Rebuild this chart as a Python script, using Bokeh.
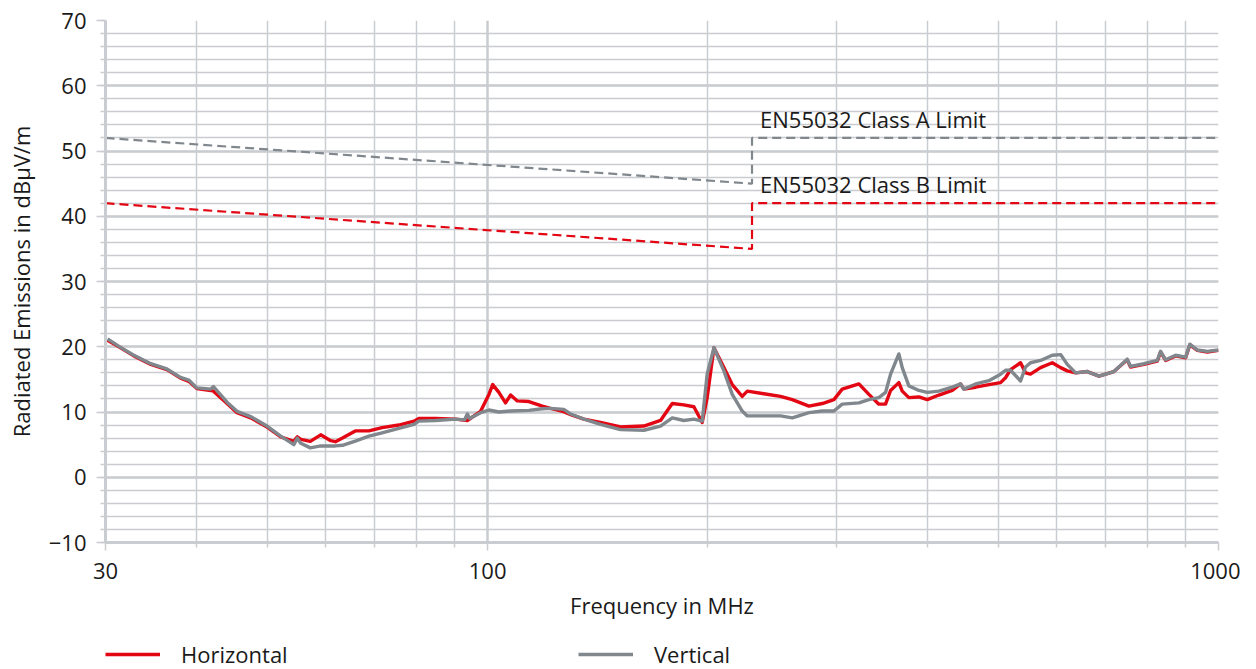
from bokeh.plotting import figure
from bokeh.models import FixedTicker, Legend, LegendItem
from bokeh.layouts import column
from bokeh.core.properties import value
from bokeh.embed import file_html
from bokeh.resources import INLINE

# ---------------- data ----------------
freq_h = [30.2, 31.45, 32.8, 34.6, 36.4, 38.0, 39.0, 40.0, 41.8, 42.15, 44.0, 45.4, 47.4, 49.9,
          52.1, 54.3, 54.9, 55.5, 57.2, 59.1, 61.0, 61.9, 63.3, 65.9, 68.8, 71.7, 75.6, 79.3,
          80.5, 84.9, 90.4, 93.8, 97.8, 100.4, 101.6, 103.6, 105.8, 107.5, 109.8, 113.9, 118.8,
          121.9, 127.1, 129.9, 135.4, 142.7, 152.0, 163.6, 172.4, 178.9, 185.5, 191.5, 196.6,
          199.7, 204.0, 210.5, 216.1, 223.0, 226.6, 238.7, 251.6, 261.1, 275.2, 287.0, 297.7,
          305.6, 322.1, 332.4, 343.0, 350.3, 355.9, 365.3, 369.2, 377.0, 389.1, 399.5, 414.4,
          432.3, 443.7, 448.3, 465.2, 485.1, 503.3, 511.2, 519.4, 536.0, 544.5, 553.1, 570.9,
          592.3, 608.1, 621.0, 637.6, 661.5, 686.2, 719.3, 750.1, 758.0, 790.6, 824.7, 833.2,
          846.6, 873.6, 901.6, 913.8, 935.4, 965.4, 1000.0]
level_h = [21.0, 19.85, 18.6, 17.3, 16.5, 15.2, 14.7, 13.6, 13.3, 13.2, 11.3, 9.9, 9.1, 7.7,
           6.2, 5.5, 6.2, 5.8, 5.5, 6.5, 5.6, 5.45, 6.0, 7.1, 7.1, 7.6, 8.0, 8.6,
           9.0, 9.0, 8.9, 8.7, 10.1, 12.7, 14.2, 13.0, 11.4, 12.6, 11.7, 11.6, 10.9,
           10.55, 10.05, 9.6, 8.9, 8.4, 7.7, 7.85, 8.7, 11.3, 11.1, 10.8, 8.4,
           12.2, 19.85, 16.8, 14.2, 12.4, 13.2, 12.8, 12.4, 11.9, 10.9, 11.3, 11.9,
           13.5, 14.3, 12.7, 11.2, 11.2, 13.3, 14.5, 13.2, 12.2, 12.3, 11.9, 12.6,
           13.3, 14.3, 13.5, 13.8, 14.2, 14.5, 15.25, 16.5, 17.55, 16.0, 15.8, 16.8,
           17.55, 16.8, 16.3, 16.0, 16.2, 15.5, 16.2, 18.0, 16.9, 17.3, 17.8, 19.2,
           17.9, 18.6, 18.3, 20.3, 19.45, 19.2, 19.45]

freq_v = [30.2, 31.45, 32.8, 34.6, 36.4, 38.0, 39.0, 40.0, 41.8, 42.15, 44.0, 45.4, 47.4, 49.9,
          52.1, 54.3, 54.9, 55.5, 57.2, 59.1, 61.0, 61.9, 63.3, 65.9, 68.8, 71.7, 75.6, 79.3,
          80.5, 84.9, 90.4, 93.0, 93.8, 94.5, 97.8, 100.4, 103.6, 107.5, 113.9, 118.8,
          121.9, 127.1, 129.9, 135.4, 142.7, 152.0, 163.6, 172.4, 178.9, 185.5, 191.5, 196.6,
          199.7, 204.0, 210.5, 216.1, 223.0, 226.6, 238.7, 251.6, 261.1, 275.2, 287.0, 297.7,
          305.6, 322.1, 332.4, 343.0, 350.3, 355.9, 365.3, 369.2, 377.0, 389.1, 399.5, 414.4,
          432.3, 443.7, 448.3, 465.2, 485.1, 503.3, 511.2, 519.4, 536.0, 544.5, 553.1, 570.9,
          592.3, 608.1, 621.0, 637.6, 661.5, 686.2, 719.3, 750.1, 758.0, 790.6, 824.7, 833.2,
          846.6, 873.6, 901.6, 913.8, 935.4, 965.4, 1000.0]
level_v = [21.2, 19.9, 18.7, 17.4, 16.6, 15.3, 14.9, 13.7, 13.5, 13.9, 11.5, 10.1, 9.3, 7.85,
           6.3, 5.0, 6.0, 5.2, 4.5, 4.8, 4.8, 4.8, 4.9, 5.55, 6.3, 6.8, 7.5, 8.1,
           8.6, 8.7, 8.9, 8.8, 9.7, 9.0, 9.9, 10.3, 10.0, 10.15, 10.25, 10.5,
           10.55, 10.4, 9.7, 8.9, 8.1, 7.3, 7.2, 7.85, 9.1, 8.7, 8.9, 8.6,
           15.8, 19.85, 16.3, 12.7, 10.15, 9.4, 9.4, 9.4, 9.1, 9.9, 10.15, 10.15,
           11.2, 11.4, 11.9, 12.2, 13.0, 15.8, 18.9, 16.8, 14.0, 13.3, 13.0, 13.2,
           13.8, 14.3, 13.5, 14.3, 14.8, 15.8, 16.4, 16.4, 14.75, 16.9, 17.55, 17.9,
           18.7, 18.8, 17.3, 16.0, 16.2, 15.5, 16.2, 18.1, 17.0, 17.4, 17.9, 19.3,
           18.0, 18.7, 18.4, 20.4, 19.5, 19.3, 19.5]

limit_freq = [30, 230, 230, 1000]
class_a = [52, 45, 52, 52]
class_b = [42, 35, 42, 42]

x_ticks = [30, 100, 1000]
x_minor = [40, 50, 60, 70, 80, 90, 200, 300, 400, 500, 600, 700, 800, 900]
y_ticks = list(range(-10, 71, 10))
y_minor = list(range(-10, 71, 2))

# ---------------- styles ----------------
FONT = "Open Sans"
TXT = "#1a1a1a"
GRID = "#c9ccd0"
RED = "#e30613"
GRAY = "#80878d"

p = figure(x_axis_type="log", x_range=(30, 1000), y_range=(-10, 70),
           frame_width=1113, frame_height=522,
           min_border_left=105, min_border_top=20, min_border_right=22, min_border_bottom=80,
           output_backend="svg", toolbar_location=None,
           background_fill_color="white", border_fill_color="white")
p.outline_line_color = None

p.xaxis.ticker = FixedTicker(ticks=x_ticks, minor_ticks=x_minor)
p.yaxis.ticker = FixedTicker(ticks=y_ticks, minor_ticks=y_minor)
p.xaxis.major_label_overrides = {30: "30", 100: "100", 1000: "1000"}

p.xgrid.grid_line_color = GRID
p.xgrid.grid_line_width = 2.5
p.xgrid.minor_grid_line_color = GRID
p.xgrid.minor_grid_line_width = 1.5
p.ygrid.grid_line_color = GRID
p.ygrid.grid_line_width = 2.5
p.ygrid.minor_grid_line_color = GRID
p.ygrid.minor_grid_line_width = 1.5

for ax in (p.xaxis, p.yaxis):
    ax.axis_line_color = GRID
    ax.axis_line_width = 3
    ax.major_tick_line_color = GRID
    ax.major_tick_line_width = 1.5
    ax.minor_tick_line_color = GRID
    ax.minor_tick_line_width = 1.5
    ax.major_tick_in = 0
    ax.minor_tick_in = 0
    ax.major_label_text_font = FONT
    ax.major_label_text_font_size = "22px"
    ax.major_label_text_color = TXT
    ax.axis_label_text_font = FONT
    ax.axis_label_text_font_size = "22px"
    ax.axis_label_text_color = TXT
    ax.axis_label_text_font_style = "normal"

p.yaxis.major_tick_out = 9
p.yaxis.minor_tick_out = 5
p.yaxis.major_label_standoff = 10
p.yaxis.axis_label = "Radiated Emissions in dBµV/m"
p.yaxis.axis_label_standoff = 10

p.xaxis.major_tick_out = 8
p.xaxis.minor_tick_out = 5
p.xaxis.major_label_standoff = 12
p.xaxis.axis_label = "Frequency in MHz"
p.xaxis.axis_label_standoff = 8

# limit lines
p.line(limit_freq, class_a, line_color=GRAY, line_width=2.2, line_dash="9 5")
p.line(limit_freq, class_b, line_color=RED, line_width=2.2, line_dash="9 5")
p.text(x=[limit_freq[1]], y=[class_a[2]], text=["EN55032 Class A Limit"],
       x_offset=8, y_offset=-4, text_baseline="bottom", text_align="left",
       text_font=value(FONT), text_font_size="22px", text_color=TXT)
p.text(x=[limit_freq[1]], y=[class_b[2]], text=["EN55032 Class B Limit"],
       x_offset=8, y_offset=-4, text_baseline="bottom", text_align="left",
       text_font=value(FONT), text_font_size="22px", text_color=TXT)

# measurements
p.line(freq_h, level_h, line_color=RED, line_width=3.4, line_join="round")
p.line(freq_v, level_v, line_color=GRAY, line_width=3.4, line_join="round")

# legend strip underneath (same series, outside its visible range)
p2 = figure(x_axis_type="log", x_range=(30, 1000), y_range=(100, 200),
            frame_width=1113, frame_height=47,
            min_border_left=105, min_border_top=0, min_border_right=22, min_border_bottom=0,
            x_axis_location=None, y_axis_location=None,
            output_backend="svg", toolbar_location=None,
            background_fill_color="white", border_fill_color="white")
p2.outline_line_color = None
p2.grid.visible = False
r_h = p2.line(freq_h, level_h, line_color=RED, line_width=3.4)
r_v = p2.line(freq_v, level_v, line_color=GRAY, line_width=3.4)

legend = Legend(items=[LegendItem(label="Horizontal", renderers=[r_h]),
                       LegendItem(label="Vertical", renderers=[r_v])],
                orientation="horizontal", location=(0, 0),
                glyph_width=55, glyph_height=20, label_standoff=21, label_width=397,
                spacing=0, padding=2, margin=0,
                border_line_color=None, background_fill_alpha=0,
                label_text_font=FONT, label_text_font_size="22px", label_text_color=TXT)
p2.add_layout(legend, "center")

layout = column(p, p2, spacing=0)
open("out.html", "w").write(file_html(layout, INLINE))
